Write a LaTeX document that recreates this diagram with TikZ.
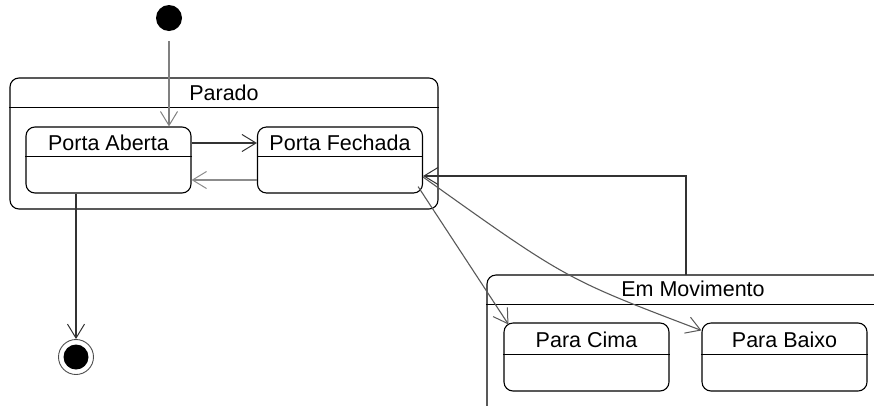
\documentclass[tikz,border=0pt]{standalone}
\usepackage{fontspec}
\setmainfont{Liberation Sans}
\usetikzlibrary{arrows.meta}

\begin{document}
\begin{tikzpicture}[x=1pt,y=-1pt,
  estado/.style={draw,rounded corners=9pt,line width=1.1pt,inner sep=0pt},
  divisor/.style={line width=1.1pt},
  rotulo/.style={font=\fontsize{21.5}{25}\selectfont,inner sep=0pt},
  seta/.style={line width=1.1pt,black!80,-{Straight Barb[length=14pt,width=17pt,line width=1pt]}},
  inicial/.style={circle,fill=black,minimum size=26pt,inner sep=0pt},
  final/.style={circle,draw=black!70,line width=0.9pt,minimum size=35pt,inner sep=0pt,
    path picture={\fill (path picture bounding box.center) circle (12.5pt);}}]
  \useasboundingbox (0,0) rectangle (874,405);
  \clip (0,0) rectangle (874,405);

  % estados compostos
  \node[estado,minimum width=428pt,minimum height=131pt] (parado) at (224,143.5) {};
  \draw[divisor] ([yshift=-30pt]parado.north west) -- ([yshift=-30pt]parado.north east);
  \node[rotulo] at ([yshift=-15pt]parado.north) {Parado};

  \node[estado,minimum width=412pt,minimum height=145pt] (mov) at (693,347.5) {};
  \draw[divisor] ([yshift=-30pt]mov.north west) -- ([yshift=-30pt]mov.north east);
  \node[rotulo] at ([yshift=-14pt]mov.north) {Em Movimento};

  % estados simples
  \node[estado,minimum width=165pt,minimum height=66pt] (pa) at (108.5,160) {};
  \draw[divisor] ([yshift=-30pt]pa.north west) -- ([yshift=-30pt]pa.north east);
  \node[rotulo] at ([yshift=-16pt]pa.north) {Porta Aberta};

  \node[estado,minimum width=165pt,minimum height=66pt] (pf) at (340,160) {};
  \draw[divisor] ([yshift=-30pt]pf.north west) -- ([yshift=-30pt]pf.north east);
  \node[rotulo] at ([yshift=-16pt]pf.north) {Porta Fechada};

  \node[estado,minimum width=165pt,minimum height=68pt] (pc) at (586.5,357) {};
  \draw[divisor] ([yshift=-32pt]pc.north west) -- ([yshift=-32pt]pc.north east);
  \node[rotulo] at ([yshift=-17pt]pc.north) {Para Cima};

  \node[estado,minimum width=165pt,minimum height=68pt] (pb) at (784.5,357) {};
  \draw[divisor] ([yshift=-32pt]pb.north west) -- ([yshift=-32pt]pb.north east);
  \node[rotulo] at ([yshift=-17pt]pb.north) {Para Baixo};

  % pseudo-estados
  \node[inicial] (ini) at (169,18) {};
  \node[final] (fim) at (76,357) {};
  \coordinate (volta) at (686,275);

  % transicoes
  \draw[seta,black!50,shorten <=10pt] (ini) -- (ini |- pa.north);
  \draw[seta] ([yshift=17pt]pa.east) -- ([yshift=17pt]pf.west);
  \draw[seta,black!45] ([yshift=-20pt]pf.west) -- ([yshift=-20pt]pa.east);
  \draw[seta] (pa.south -| fim) -- (fim);
  \draw[seta] (volta) |- ([yshift=-16pt]pf.east);
  \draw[seta,black!65] ([shift={(-5,-7)}]pf.south east) -- ([shift={(5,2)}]pc.north west);
  \draw[seta,black!65] ([yshift=-17pt]pf.east) .. controls (566,279) .. ([yshift=-8pt]pb.north west);
\end{tikzpicture}
\end{document}
